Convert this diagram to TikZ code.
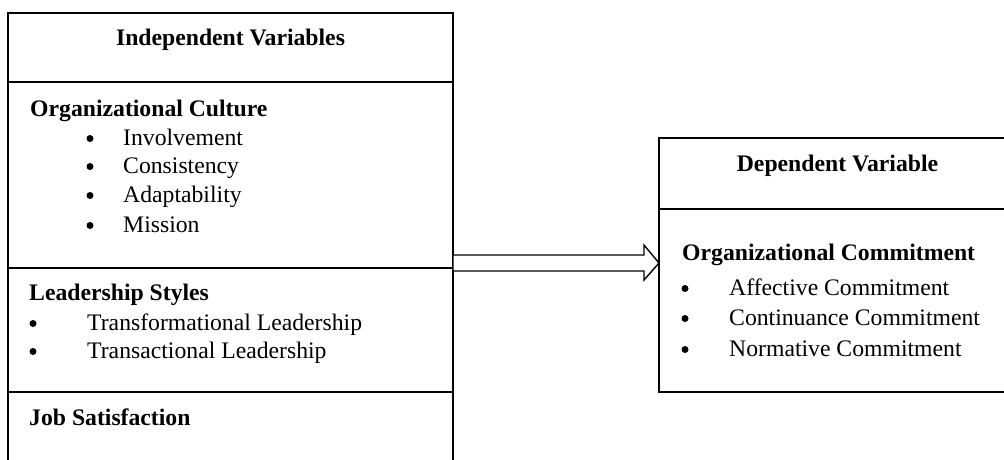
\documentclass[tikz,border=0pt]{standalone}
\usepackage{fontspec}
\setmainfont{Liberation Serif}
\usetikzlibrary{calc}
\begin{document}
\begin{tikzpicture}[x=1pt,y=-1pt,
  box/.style={draw,line width=1.4pt,anchor=north west,inner sep=0pt,outer sep=0pt},
  divider/.style={line width=2.8pt},
  txt/.style={anchor=base west,inner sep=0pt,font=\fontsize{23.7}{28}\selectfont},
  bold/.style={txt,font=\fontsize{23.7}{28}\selectfont\bfseries},
  hd/.style={anchor=base,inner sep=0pt,font=\fontsize{23.7}{28}\selectfont\bfseries},
  bul/.style={circle,fill=black,inner sep=0pt,minimum size=7pt},
  arr/.style={draw,line width=1.4pt,fill=white,line join=miter}]
\useasboundingbox (0,0) rectangle (1004,459);

% left column boxes
\node[box,minimum width=445pt,minimum height=69pt]  (iv) at (8,13)  {};
\node[box,minimum width=445pt,minimum height=186pt] (oc) at (8,82)  {};
\node[box,minimum width=445pt,minimum height=124pt] (ls) at (8,268) {};
\node[box,minimum width=445pt,minimum height=90pt]  (js) at (8,392) {};
\draw[divider] (oc.north west) -- (oc.north east);
\draw[divider] (ls.north west) -- (ls.north east);
\draw[divider] (js.north west) -- (js.north east);

% right column boxes
\node[box,minimum width=357pt,minimum height=71pt]  (dvh) at (659,138) {};
\node[box,minimum width=357pt,minimum height=183pt] (dvb) at (659,209) {};
\draw[divider] (dvb.north west) -- (dvb.north east);

% texts left
\node[hd] (t1) at (230.5,45) {Independent Variables};
\node[bold] (t2) at (30,116) {Organizational Culture};
\foreach \y/\t [count=\i] in {145/Involvement,173/Consistency,202/Adaptability,232/Mission}{
  \node[bul] (b1\i) at (90,\y-6.5) {};
  \node[txt] (o\i) at (123,\y) {\t};
}
\node[bold] (t3) at (29,300) {Leadership Styles};
\foreach \y/\t [count=\i] in {330/Transformational Leadership,358/Transactional Leadership}{
  \node[bul] (b2\i) at (33,\y-6.5) {};
  \node[txt] (l\i) at (87,\y) {\t};
}
\node[bold] (t4) at (29,425) {Job Satisfaction};

% texts right
\node[hd] (t5) at (837.5,171) {Dependent Variable};
\node[bold] (t6) at (682,260) {Organizational Commitment};
\foreach \y/\t [count=\i] in {295/Affective Commitment,325/Continuance Commitment,356/Normative Commitment}{
  \node[bul] (b3\i) at (685,\y-6.5) {};
  \node[txt] (c\i) at (729,\y) {\t};
}

% block arrow
\coordinate (s) at ($(oc.south east)+(0,-5)$);
\coordinate (t) at (dvb.west |- s);
\draw[arr] ($(s)+(0,-8)$) -- ($(t)+(-15,-8)$) -- ($(t)+(-15,-18)$) -- (t)
  -- ($(t)+(-15,17)$) -- ($(t)+(-15,8)$) -- ($(s)+(0,8)$) -- cycle;
\end{tikzpicture}
\end{document}
